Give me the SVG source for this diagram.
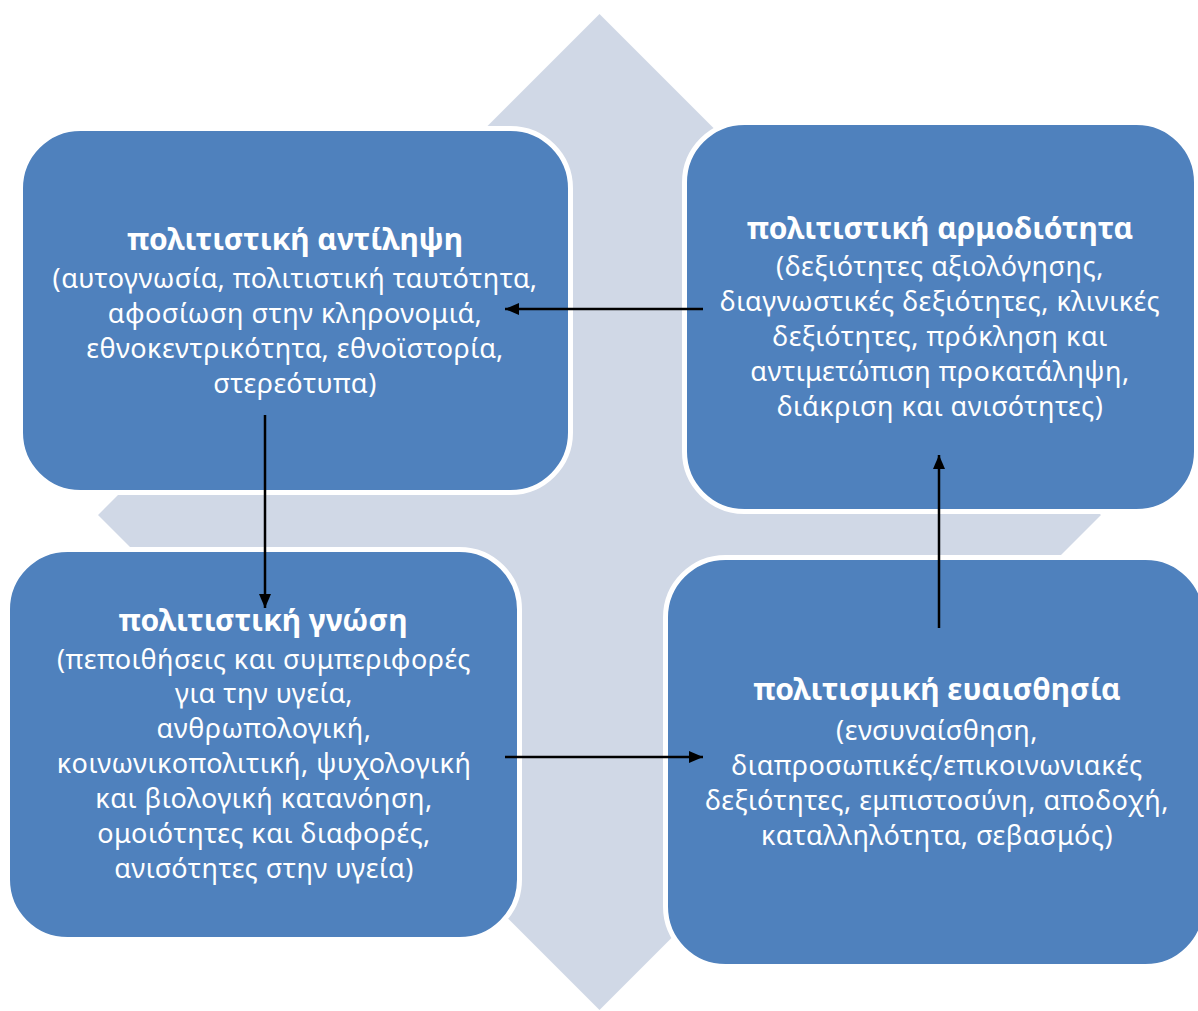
<svg xmlns="http://www.w3.org/2000/svg" width="1198" height="1011" viewBox="0 0 1198 1011">
<defs>
<style>
.bg{fill:#D0D8E6;}
.box{fill:#4F81BD;stroke:#FFFFFF;stroke-width:5;}
.t{font-family:"Noto Sans","DejaVu Sans",sans-serif;font-size:27px;letter-spacing:0.5px;fill:#FFFFFF;text-anchor:middle;}
.h{font-weight:bold;font-size:30px;letter-spacing:0;}
.con{stroke:#000000;stroke-width:2.5;fill:none;marker-end:url(#ah);}
</style>
<marker id="ah" viewBox="0 0 14 12" refX="14" refY="6" markerWidth="14" markerHeight="12" markerUnits="userSpaceOnUse" orient="auto">
<path d="M0,0 L14,6 L0,12 z" fill="#000000"/>
</marker>
</defs>
<rect width="1198" height="1011" fill="#FFFFFF"/>
<polygon class="bg" points="599.5,14 799.5,214 689.5,214 689.5,425 901,425 901,315 1101,515 901,715 901,605 689.5,605 689.5,810 799.5,810 599.5,1010 399.5,810 509.5,810 509.5,605 298,605 298,715 98,515 298,315 298,425 509.5,425 509.5,214 399.5,214"/>
<g id="node-antilipsi">
<rect class="box" x="20.5" y="128.5" width="550" height="364" rx="60" ry="60"/>
<text class="t h" x="295" y="250">πολιτιστική αντίληψη</text>
<text class="t" x="295" y="288">(αυτογνωσία, πολιτιστική ταυτότητα,</text>
<text class="t" x="295" y="323">αφοσίωση στην κληρονομιά,</text>
<text class="t" x="295" y="358">εθνοκεντρικότητα, εθνοϊστορία,</text>
<text class="t" x="295" y="393">στερεότυπα)</text>
</g>
<g id="node-armodiotita">
<rect class="box" x="684.5" y="122.5" width="512" height="389" rx="60" ry="60"/>
<text class="t h" x="940" y="239">πολιτιστική αρμοδιότητα</text>
<text class="t" x="940" y="276">(δεξιότητες αξιολόγησης,</text>
<text class="t" x="940" y="311">διαγνωστικές δεξιότητες, κλινικές</text>
<text class="t" x="940" y="346">δεξιότητες, πρόκληση και</text>
<text class="t" x="940" y="381">αντιμετώπιση προκατάληψη,</text>
<text class="t" x="940" y="416">διάκριση και ανισότητες)</text>
</g>
<g id="node-gnosi">
<rect class="box" x="7.5" y="549.5" width="512" height="390" rx="60" ry="60"/>
<text class="t h" x="263" y="631">πολιτιστική γνώση</text>
<text class="t" x="264" y="669">(πεποιθήσεις και συμπεριφορές</text>
<text class="t" x="264" y="703">για την υγεία,</text>
<text class="t" x="264" y="738">ανθρωπολογική,</text>
<text class="t" x="264" y="773">κοινωνικοπολιτική, ψυχολογική</text>
<text class="t" x="264" y="808">και βιολογική κατανόηση,</text>
<text class="t" x="264" y="843">ομοιότητες και διαφορές,</text>
<text class="t" x="264" y="878">ανισότητες στην υγεία)</text>
</g>
<g id="node-evaisthisia">
<rect class="box" x="665.5" y="557.5" width="540" height="409" rx="60" ry="60"/>
<text class="t h" x="937" y="700">πολιτισμική ευαισθησία</text>
<text class="t" x="937" y="740">(ενσυναίσθηση,</text>
<text class="t" x="937" y="775">διαπροσωπικές/επικοινωνιακές</text>
<text class="t" x="937" y="810">δεξιότητες, εμπιστοσύνη, αποδοχή,</text>
<text class="t" x="937" y="845">καταλληλότητα, σεβασμός)</text>
</g>
<g id="connectors">
<line class="con" x1="703" y1="309" x2="505" y2="309"/>
<line class="con" x1="265" y1="415" x2="265" y2="608"/>
<line class="con" x1="505" y1="757" x2="703" y2="757"/>
<line class="con" x1="939" y1="628" x2="939" y2="455"/>
</g>
</svg>
